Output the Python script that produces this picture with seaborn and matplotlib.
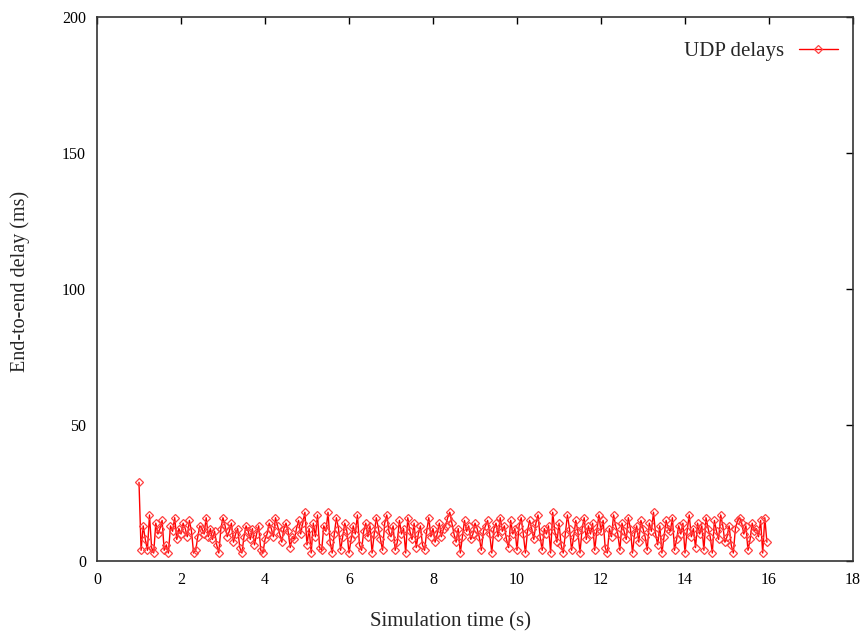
import numpy as np
import pandas as pd
import matplotlib
matplotlib.use("Agg")
import matplotlib.pyplot as plt
import seaborn as sns

# ---- data ----
t_start = 1.0
t_step = 0.05
delays = [
    29, 4, 13, 8, 4, 17, 5, 3, 14, 10, 12, 15, 4, 6, 3, 13, 11, 16, 8, 12,
    10, 14, 12, 9, 15, 11, 3, 4, 9, 13, 12, 10, 16, 9, 12, 8, 11, 6, 3, 12,
    16, 13, 9, 11, 14, 7, 10, 12, 5, 3, 9, 13, 11, 8, 12, 6, 10, 13, 4, 3,
    8, 10, 14, 12, 9, 16, 13, 10, 7, 12, 14, 11, 5, 9, 8, 12, 15, 10, 14, 18,
    6, 12, 3, 14, 9, 17, 5, 4, 13, 11, 18, 7, 3, 10, 16, 12, 4, 9, 14, 11,
    3, 8, 13, 10, 17, 6, 4, 11, 14, 9, 13, 3, 10, 16, 12, 8, 4, 14, 17, 11,
    9, 13, 4, 7, 15, 10, 12, 3, 16, 11, 8, 14, 5, 10, 13, 6, 4, 11, 16, 9,
    12, 7, 10, 14, 9, 12, 13, 16, 18, 14, 10, 7, 12, 3, 9, 15, 11, 13, 8, 10,
    14, 12, 9, 4, 11, 13, 15, 10, 3, 12, 14, 9, 16, 11, 13, 8, 5, 15, 10, 12,
    4, 13, 16, 10, 3, 11, 15, 12, 8, 14, 17, 9, 4, 12, 10, 13, 3, 18, 11, 7,
    14, 6, 3, 10, 17, 12, 4, 9, 15, 11, 3, 12, 16, 8, 13, 10, 14, 4, 11, 17,
    11, 15, 5, 3, 12, 9, 17, 13, 10, 4, 14, 11, 8, 16, 12, 3, 10, 13, 7, 15,
    12, 9, 4, 14, 11, 18, 10, 6, 13, 3, 9, 15, 12, 11, 16, 4, 8, 13, 10, 14,
    3, 11, 17, 9, 12, 5, 14, 10, 13, 4, 16, 12, 9, 3, 15, 11, 8, 17, 13, 7,
    9, 13, 6, 3, 12, 15, 16, 14, 10, 13, 4, 8, 14, 11, 12, 9, 15, 3, 16, 7,
]
times = t_start + t_step * np.arange(len(delays))

x_ticks = [0, 2, 4, 6, 8, 10, 12, 14, 16, 18]
y_ticks = [0, 50, 100, 150, 200]
series_label = "UDP delays"
x_label = "Simulation time (s)"
y_label = "End-to-end delay (ms)"

df = pd.DataFrame({"time": times, "delay": delays, "series": series_label})

sns.set_theme(style="white")
plt.rcParams["font.family"] = ["Liberation Serif", "DejaVu Serif"]

fig = plt.figure(figsize=(8.66, 6.32), dpi=100)
ax = fig.add_axes([0.112, 0.112, 0.873, 0.861])

sns.lineplot(data=df, x="time", y="delay", ax=ax, color="red", linewidth=1.0,
             marker="D", markersize=4, markerfacecolor="none",
             markeredgecolor="#ff4040", markeredgewidth=0.9,
             label=series_label, estimator=None, sort=False)

ax.set_xlim(0, 18)
ax.set_ylim(0, 200)
ax.set_xticks(x_ticks)
ax.set_yticks(y_ticks)
ax.tick_params(direction="in", length=5, width=1, colors="black",
               top=True, right=True, labelsize=11.5, pad=8)
for s in ax.spines.values():
    s.set_color("#333333")
    s.set_linewidth(1.2)

ax.set_xlabel(x_label, fontsize=15)
ax.set_ylabel(y_label, fontsize=14.5)
ax.xaxis.set_label_coords(0.467, -0.093)
ax.yaxis.set_label_coords(-0.088, 0.515)

leg = ax.legend(loc="upper right", bbox_to_anchor=(1.003, 0.987),
                frameon=False, markerfirst=False,
                fontsize=15, handlelength=1.85, handletextpad=0.7,
                borderaxespad=0.45)

fig.savefig("out.png", dpi=100)
